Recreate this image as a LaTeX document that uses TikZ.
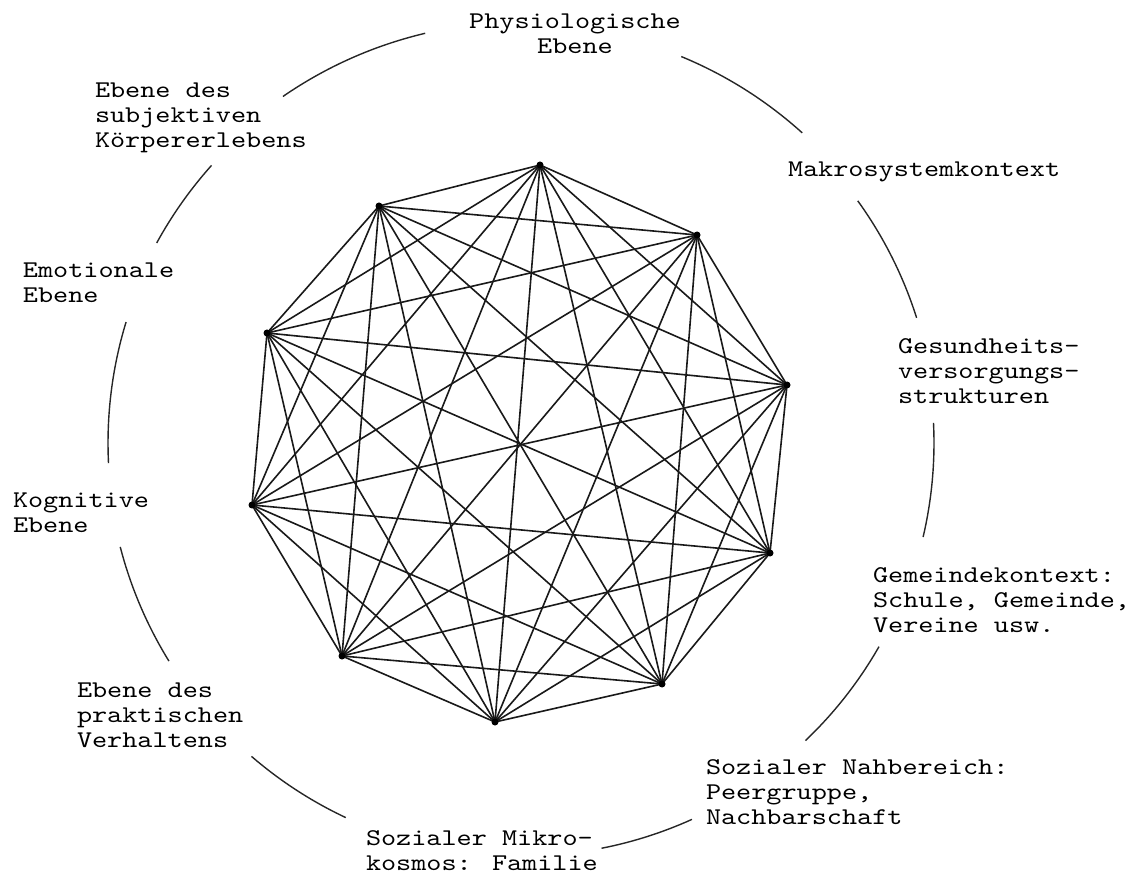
\documentclass[tikz,border=0pt]{standalone}
\usepackage{fontspec}
\newfontfamily\typew{lmmono10-regular}[Extension=.otf,FakeStretch=1.2]
\begin{document}
\begin{tikzpicture}[x=1pt,y=-1pt,
  lbl/.style={inner sep=0pt,outer sep=0pt,anchor=base west,align=left,
    font=\typew\fontsize{24}{25}\selectfont},
  lblc/.style={lbl,anchor=base,align=center},
  edge/.style={line width=1.6pt,black!90},
  ring/.style={line width=1.4pt,black!85},
  dot/.style={black}]
\useasboundingbox (0,0) rectangle (1130,874);
% vertices
\coordinate (v1) at (540,165);
\coordinate (v2) at (697,235);
\coordinate (v3) at (787,385);
\coordinate (v4) at (770,553);
\coordinate (v5) at (662,684);
\coordinate (v6) at (495,722);
\coordinate (v7) at (342,656);
\coordinate (v8) at (252,505);
\coordinate (v9) at (267,333);
\coordinate (v10) at (379,206);
\foreach \i in {1,...,9}{
  \pgfmathtruncatemacro\nxt{\i+1}
  \foreach \j in {\nxt,...,10}{\draw[edge] (v\i) -- (v\j);}
}
\foreach \i in {1,...,10}{\fill[dot] (v\i) circle (3.5);}
% labels (positions give the baseline of the last line)
\node[lblc] (phys) at (575,54) {Physiologische\\Ebene};
\node[lbl] (makro) at (788,177) {Makrosystemkontext};
\node[lbl] (ges) at (898,403) {Gesundheits-\\versorgungs-\\strukturen};
\node[lbl] (gem) at (873,632) {Gemeindekontext:\\Schule, Gemeinde,\\Vereine usw.};
\node[lbl] (nah) at (706,824) {Sozialer Nahbereich:\\Peergruppe,\\Nachbarschaft};
\node[lbl] (mikro) at (366,870) {Sozialer Mikro-\\kosmos: Familie};
\node[lbl] (prak) at (77,747) {Ebene des\\praktischen\\Verhaltens};
\node[lbl] (kog) at (13,532) {Kognitive\\Ebene};
\node[lbl] (emo) at (23,303) {Emotionale\\Ebene};
\node[lbl] (subj) at (95,148) {Ebene des\\subjektiven\\Körpererlebens};
% ring arcs
\coordinate (C) at (522,443);
\foreach \a/\b/\r in {-124.6/-103.3/421, -67.6/-47.9/418, -35.8/-17.6/414,
  -2.8/13.2/412, 29.7/46.4/411, 65.7/78.9/413, 115.2/130.8/414,
  148.3/165.5/415, 177.2/197.0/414, 208.7/221.8/416.5}{
  \draw[ring] ([shift={(\a:\r)}]C) arc[start angle=\a, end angle=\b, radius=\r];
}
\end{tikzpicture}
\end{document}
